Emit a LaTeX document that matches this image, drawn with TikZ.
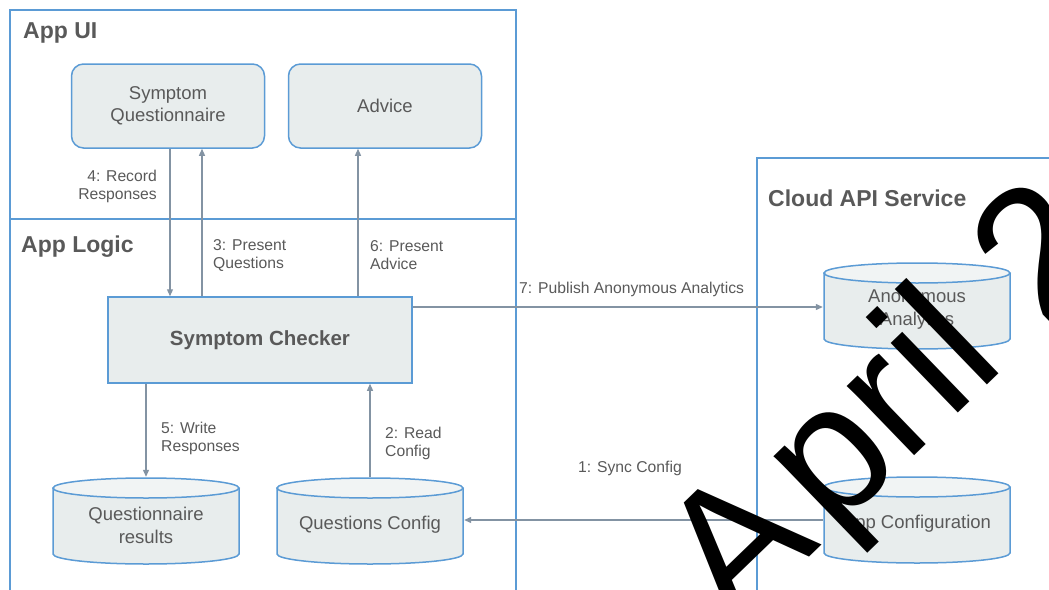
\documentclass[tikz,border=0pt]{standalone}
\usepackage{fontspec}
\setmainfont{Liberation Sans}
\usetikzlibrary{arrows.meta}
\definecolor{laneblue}{HTML}{5B9BD5}
\definecolor{boxfill}{HTML}{E8EDED}
\definecolor{boxtop}{HTML}{F1F4F4}
\definecolor{inkgrey}{HTML}{595959}
\definecolor{wiregrey}{HTML}{8393A3}
\tikzset{
  lane/.style={draw=laneblue, line width=1.3},
  lanetitle/.style={anchor=west, inner sep=0, text=inkgrey, font=\fontsize{23}{26}\selectfont\bfseries},
  uibox/.style={draw=laneblue, fill=boxfill, line width=1.5, rounded corners=12, minimum width=193, minimum height=84, align=center, text=inkgrey, font=\fontsize{18.5}{22}\selectfont},
  logicbox/.style={draw=laneblue, fill=boxfill, line width=1.5, minimum width=304, minimum height=86, text=inkgrey, font=\fontsize{20.5}{24}\selectfont\bfseries},
  % drum drawn inside a 188x96 box, its middle 4pt above the text
  store/.style={minimum width=188, minimum height=96, inner sep=0, fill=white, align=center, text=inkgrey, font=\fontsize{18.5}{23}\selectfont,
    path picture={
      \path[fill=boxfill] ([shift={(-93pt,37pt)}]path picture bounding box.center) -- ++(0pt,-66pt)
        arc[start angle=180, end angle=360, x radius=93pt, y radius=10pt] -- ++(0pt,66pt) -- cycle;
      \draw[laneblue, line width=1.5] ([shift={(-93pt,37pt)}]path picture bounding box.center) -- ++(0pt,-66pt)
        arc[start angle=180, end angle=360, x radius=93pt, y radius=10pt] -- ++(0pt,66pt);
      \draw[laneblue, fill=boxtop, line width=1.5] ([shift={(0pt,37pt)}]path picture bounding box.center)
        ellipse[x radius=93pt, y radius=10pt];
    }},
  flow/.style={draw=wiregrey, line width=1.2, -{Triangle[length=7,width=6]}},
  flowlabel/.style={inner sep=0, text=inkgrey, font=\fontsize{15.7}{18}\selectfont}
}
\begin{document}
\begin{tikzpicture}[x=1pt, y=-1pt]
  %%%%% FRAME %%%%%
  \useasboundingbox (0,0) rectangle (1049,589);
  \clip (0,0) rectangle (1049,589);

  %%%%% LANES %%%%%
  \draw[lane] (10,10) rectangle (516,219);
  \draw[lane] (10,219) rectangle (516,620);
  \draw[lane] (757,158) rectangle (1100,620);
  \node[lanetitle] (uititle) at (23,33) {App UI};
  \node[lanetitle] (logictitle) at (21,247) {App Logic};
  \node[lanetitle] (cloudtitle) at (768,198) {Cloud API Service};

  %%%%% BOXES %%%%%
  \node[uibox] (quest) at (168,106) {Symptom\\[-0.5pt]Questionnaire};
  \node[uibox] (advice) at (385,106) {Advice};
  \node[logicbox] (checker) at (260,340) {Symptom Checker};
  \node[store] (results) at (146,525) {Questionnaire\\results};
  \node[store] (qconfig) at (370,525) {Questions Config};
  \node[store] (analytics) at (917,310) {Anonymous\\Analytics};
  \node[store] (appconfig) at (917,524) {App Configuration};

  %%%%% FLOWS %%%%%
  \draw[flow] (170,0 |- quest.south) -- (170,0 |- checker.north);
  \draw[flow] (202,0 |- checker.north) -- (202,0 |- quest.south);
  \draw[flow] (358,0 |- checker.north) -- (358,0 |- advice.south);
  \draw[flow] (146,0 |- checker.south) -- (results.north);
  \draw[flow] (qconfig.north) -- (370,0 |- checker.south);
  \draw[flow] (checker.east |- 0,307) -- (analytics.west |- 0,307);
  \draw[flow] (appconfig.west |- 0,520) -- (qconfig.east |- 0,520);

  \node[flowlabel, anchor=east, align=right] (lbl4) at (157,186) {4: Record\\Responses};
  \node[flowlabel, anchor=west, align=left] (lbl3) at (213,255) {3: Present\\Questions};
  \node[flowlabel, anchor=west, align=left] (lbl6) at (370,255) {6: Present\\Advice};
  \node[flowlabel, anchor=west, align=left] (lbl5) at (161,438) {5: Write\\Responses};
  \node[flowlabel, anchor=west, align=left] (lbl2) at (385,443) {2: Read\\Config};
  \node[flowlabel, anchor=west] (lbl7) at (519,289) {7: Publish Anonymous Analytics};
  \node[flowlabel] (lbl1) at (630,468) {1: Sync Config};

  %%%%% STAMP %%%%%
  \node[rotate=44, anchor=base west, inner sep=0, font=\fontsize{183}{183}\selectfont] (stamp) at (734,630) {A\kern15pt pril 2};
\end{tikzpicture}
\end{document}
